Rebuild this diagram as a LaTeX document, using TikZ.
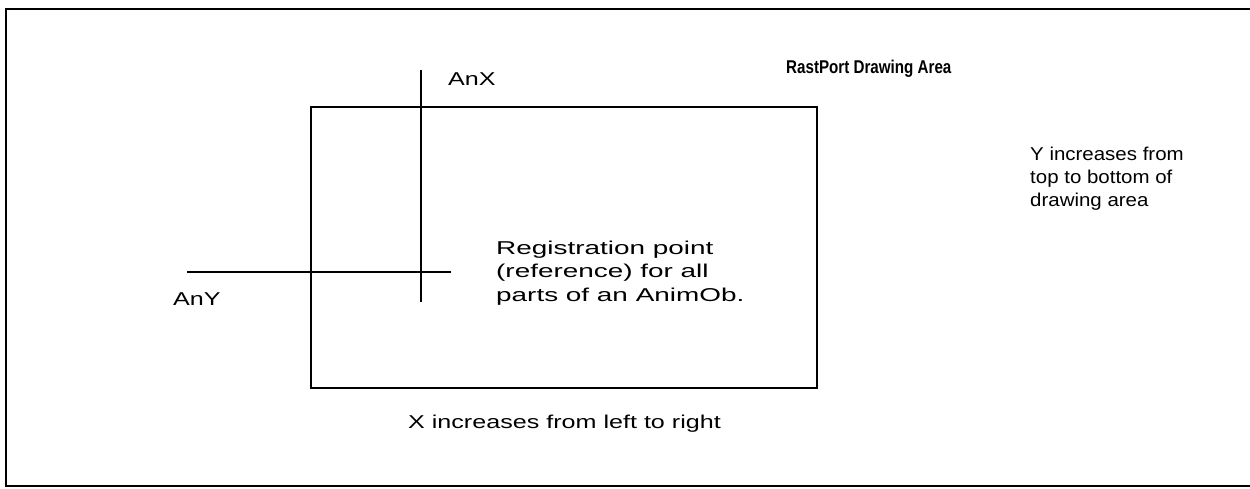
\documentclass[tikz,border=0pt]{standalone}
\usepackage{fontspec}
\setmainfont{Liberation Sans}[FakeStretch=1.35]
\newfontfamily\regfont{Liberation Sans}[FakeStretch=1.5]
\newfontfamily\yfont{Liberation Sans}[FakeStretch=1.1]
\newfontfamily\titlefont{Liberation Sans Bold}[FakeStretch=0.82]
\begin{document}
\begin{tikzpicture}[x=1pt,y=-1pt,
  frame/.style={line width=2.8pt,line cap=rect},
  area/.style={line width=2.6pt},
  axis/.style={line width=1.7pt},
  lbl/.style={font=\fontsize{18.6}{23.5}\selectfont,inner sep=0pt,anchor=base west,align=left},
  ttl/.style={font=\titlefont\fontsize{18.5}{20}\selectfont,inner sep=0pt,anchor=base west}]
\useasboundingbox (0,0) rectangle (1250,489);
% outer frame (open on the right)
\coordinate (ftr) at (1250,9);
\coordinate (ftl) at (6,9);
\coordinate (fbl) at (6,486);
\coordinate (fbr) at (1250,486);
\draw[frame] (ftr) -- (ftl) -- (fbl) -- (fbr);
% drawing area
\coordinate (ra) at (311,107);
\coordinate (rb) at (817,388);
\draw[area] (ra) rectangle (rb);
% registration axes
\coordinate (vt) at (421,70);
\coordinate (vb) at (421,302);
\coordinate (hl) at (187,272);
\coordinate (hr) at (451,272);
\draw[axis] (vt) -- (vb);
\draw[axis] (hl) -- (hr);
% labels (base = baseline of the last line)
\node[ttl] (title) at (786,74) {RastPort Drawing Area};
\node[lbl] (anx) at (448,86) {AnX};
\node[lbl] (any) at (173,305) {AnY};
\node[lbl,font=\regfont\fontsize{18.6}{23.5}\selectfont] (reg) at (496,301) {Registration point\\(reference) for all\\parts of an AnimOb.};
\node[lbl,font=\yfont\fontsize{18.6}{23}\selectfont] (yinc) at (1030,207) {Y increases from\\top to bottom of\\drawing area};
\node[lbl] (xinc) at (408,428) {X increases from left to right};
\end{tikzpicture}
\end{document}
